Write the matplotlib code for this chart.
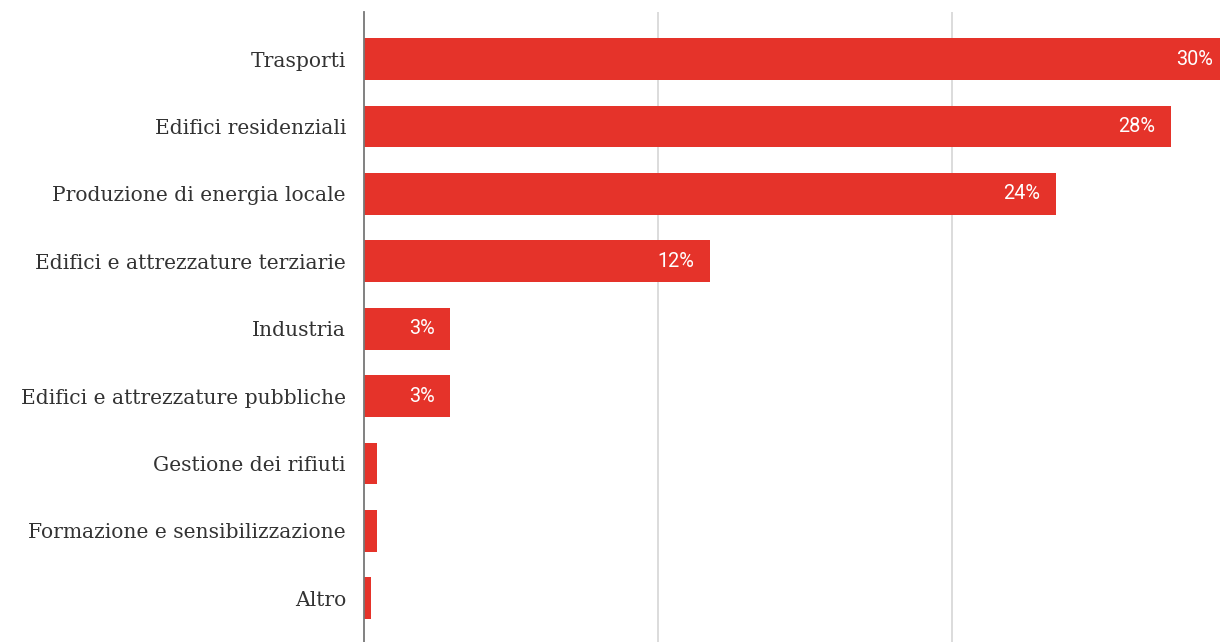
import matplotlib
matplotlib.use("Agg")
import matplotlib.pyplot as plt

categories = [
    "Trasporti",
    "Edifici residenziali",
    "Produzione di energia locale",
    "Edifici e attrezzature terziarie",
    "Industria",
    "Edifici e attrezzature pubbliche",
    "Gestione dei rifiuti",
    "Formazione e sensibilizzazione",
    "Altro",
]
shares = [30, 28, 24, 12, 3, 3, 0.45, 0.45, 0.25]
labels = ["30%", "28%", "24%", "12%", "3%", "3%", "", "", ""]
grid_step = 10.2

bar_color = "#e5332a"

fig = plt.figure(figsize=(12.2, 6.42), dpi=100)
ax = fig.add_axes([364 / 1220, 0, 1 - 364 / 1220, 1 - 12 / 642])

y = list(range(len(categories)))
bars = ax.barh(y, shares, height=0.62, color=bar_color, zorder=2)

for rect, lab in zip(bars, labels):
    if lab:
        ax.annotate(lab, (rect.get_width(), rect.get_y() + rect.get_height() / 2),
                    xytext=(-11.5, 0), textcoords="offset points",
                    ha="right", va="center", color="white", fontsize=14.3,
                    family="Roboto", zorder=3, annotation_clip=False)

# the longest bar runs slightly past the right edge
ax.set_xlim(0, 29.7)
ax.set_ylim(8.65, -0.70)
ax.set_xticks([grid_step, 2 * grid_step])
ax.xaxis.grid(True, color="#d9d9d9", linewidth=1.3, zorder=1)
ax.tick_params(axis="x", length=0, labelbottom=False)

ax.set_yticks(y)
ax.set_yticklabels(categories, family="DejaVu Serif", fontsize=14.6, color="#333333")
ax.tick_params(axis="y", length=0, pad=13)

for side in ["top", "right", "bottom"]:
    ax.spines[side].set_visible(False)
ax.spines["left"].set_color("#777777")
ax.spines["left"].set_linewidth(1.3)
ax.spines["left"].set_zorder(4)

fig.savefig("out.png", dpi=100)
